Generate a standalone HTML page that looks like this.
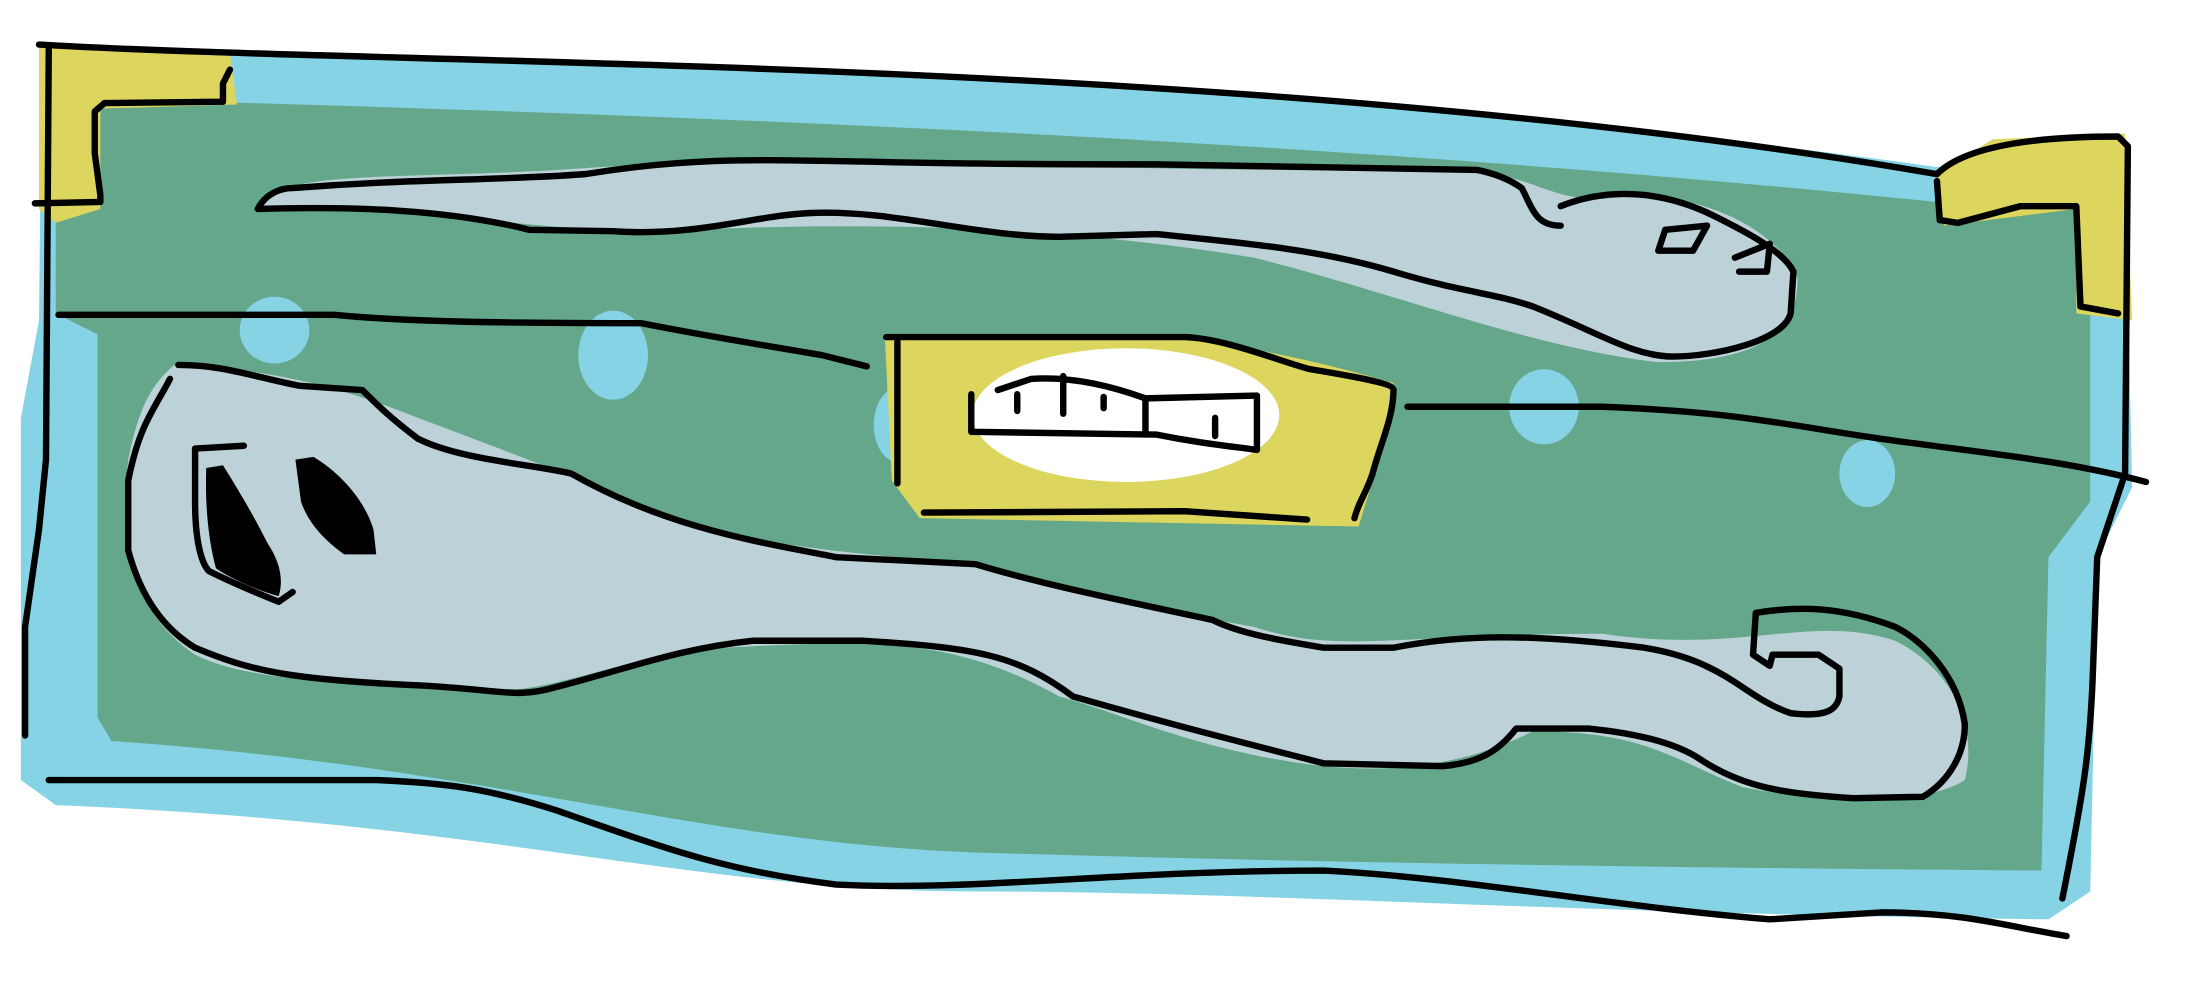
<!DOCTYPE html>
<html><head><meta charset="utf-8"><style>html,body{margin:0;padding:0;background:#fff}svg{display:block}</style></head>
<body>
<svg width="2185" height="989" viewBox="0 0 1568 710" preserveAspectRatio="none" xmlns="http://www.w3.org/2000/svg">
<rect x="0" y="0" width="1568" height="710" fill="#fff"/>
<path fill="#86d3e6" d="M30,32 C300,40 900,50 1390,120 L1525,100 L1530,350 L1505,400 L1500,640 L1470,660 C1100,655 900,640 700,640 C500,640 350,590 40,578 L15,560 L15,300 L28,230 Z"/>
<path fill="#64a78a" d="M40,70 C400,80 900,95 1390,145 L1500,150 L1500,360 L1470,400 L1465,625 C1100,622 900,618 700,612 C500,605 350,550 80,532 L70,515 L70,240 L40,225 Z"/>
<path fill="#dcd65e" d="M28,32 L165,38 L170,75 L72,78 L72,150 L40,160 L28,150 Z"/>
<path fill="#dcd65e" d="M1390,125 L1430,100 L1525,96 L1530,230 L1490,225 L1490,150 L1395,162 Z"/>
<g fill="#86d3e6">
<ellipse cx="197" cy="237" rx="25" ry="24"/><ellipse cx="440" cy="255" rx="25" ry="32"/><ellipse cx="645" cy="305" rx="18" ry="27"/><ellipse cx="1108" cy="292" rx="25" ry="27"/><ellipse cx="1340" cy="340" rx="20" ry="24"/>
</g>
<path fill="#bcd2d8" d="M185,148 C200,120 300,130 430,120 C600,110 800,125 1060,122 C1110,130 1120,150 1170,140 C1230,140 1280,170 1290,200 C1290,240 1260,260 1190,260 C1100,250 1000,210 900,185 C750,160 600,160 500,165 C400,170 330,150 185,148 Z"/>
<path fill="#bcd2d8" d="M125,262 C200,265 250,280 300,300 C380,330 420,345 470,370 C550,395 650,400 700,405 C800,430 870,445 900,450 C960,470 1000,455 1150,455 C1250,470 1300,440 1360,460 C1400,480 1420,520 1410,560 C1380,580 1300,575 1250,565 C1200,545 1180,525 1100,525 C1050,550 1000,555 950,550 C860,540 800,510 760,500 C680,455 620,460 520,465 C450,470 390,500 350,495 C250,490 180,490 140,470 C95,440 85,390 92,330 C100,290 110,275 125,262 Z"/>
<path fill="#dcd65e" d="M635,242 L850,242 C900,250 950,260 1000,275 C995,320 980,360 975,378 L660,372 L640,345 Z"/>
<ellipse cx="808" cy="298" rx="110" ry="48" fill="#fff"/>
<g fill="none" stroke="#000" stroke-width="4.6" stroke-linecap="round" stroke-linejoin="round">
<path d="M28,32 C300,48 900,40 1390,125 C1410,105 1460,98 1520,98 L1527,105 L1525,340 L1505,400 L1502,480 C1500,540 1495,570 1480,645"/>
<path d="M35,35 L33,330 L28,380 L18,450 L18,528"/>
<path d="M165,50 L160,60 L160,73 L75,74 L68,80 L68,110 L72,140 L72,145 L25,146"/>
<path d="M1390,130 L1392,158 L1405,160 L1450,148 L1490,148 L1493,220 L1520,225"/>
<path d="M185,150 C190,140 200,135 210,135 C300,128 350,130 420,125 C500,112 550,115 620,116 C700,118 800,118 830,118 L1060,122 C1075,125 1085,130 1092,135 C1100,150 1102,162 1120,162"/>
<path d="M185,150 C250,148 320,150 380,165 L440,166 C500,170 540,155 580,153 C640,150 700,170 760,170 L830,168 C900,175 950,180 1000,195 C1050,210 1070,210 1100,220 C1150,240 1170,255 1200,256 C1230,256 1280,245 1285,225 L1287,195 C1280,180 1250,165 1230,155 C1200,140 1160,132 1120,148"/>
<path d="M1190,180 L1195,165 L1225,162 L1215,180 Z"/><path d="M1245,185 L1270,175 L1268,195 L1248,195"/>
<path d="M42,226 L240,226 C300,232 400,232 460,232 C500,240 560,250 590,255 L622,263"/>
<path d="M636,242 L850,242 C880,243 920,260 940,265 C970,270 1000,275 1000,280 C1000,300 990,320 985,340 C980,355 975,360 972,372"/>
<path d="M644,245 L644,347"/><path d="M663,368 L850,367 L938,373"/>
<path d="M697,283 L697,310 L830,312 C860,318 880,320 902,323 L902,284 L822,286 C800,278 770,270 740,272 L716,280"/>
<path d="M730,283 L730,295"/><path d="M763,270 L763,297"/><path d="M792,285 L792,293"/><path d="M822,287 L822,310"/><path d="M872,300 L872,313"/>
<path d="M1010,292 L1150,292 C1250,296 1280,305 1350,315 C1420,325 1480,330 1540,346"/>
<path d="M122,272 C110,295 100,305 92,345 L92,395 C100,425 115,450 140,465 C180,482 210,488 300,492 C360,495 370,502 400,493 C450,480 490,465 540,460 L620,460 C700,465 730,470 770,500 C840,520 880,530 950,548 L1035,550 C1060,548 1075,540 1088,523 L1140,523 C1180,527 1205,535 1220,545 C1250,565 1280,570 1330,573 L1380,572 C1400,560 1410,540 1410,520 C1405,485 1380,460 1360,450 C1320,435 1290,435 1260,440 L1258,470 L1270,478 L1272,470 L1305,470 L1320,480 L1320,500 C1318,510 1310,515 1285,512 C1250,500 1240,475 1180,465 C1100,455 1050,455 1000,465 L950,465 C920,460 890,455 870,445 C800,430 750,420 700,405 L600,400 C550,390 480,380 410,340 C380,333 330,330 300,315 C280,300 270,290 260,280 L215,277 C180,270 160,262 128,262"/>
<path d="M175,320 L140,322 L140,360 C140,390 145,405 150,410 C170,420 190,428 200,432 L210,425"/>
<path d="M35,560 L270,560 C320,562 350,566 400,582 C480,610 520,625 600,635 C700,640 800,625 950,625 C1050,630 1150,650 1270,660 L1350,655 C1410,655 1440,665 1483,672"/>
</g>
<path fill="#000" d="M148,336 L160,334 C170,350 182,370 192,390 C200,402 204,415 200,428 C185,424 165,415 155,408 C150,390 147,365 148,336 Z"/>
<path fill="#000" d="M212,330 L225,328 C245,340 262,360 268,380 L270,398 L247,398 C236,390 222,378 216,360 Z"/>
</svg>
</body></html>
